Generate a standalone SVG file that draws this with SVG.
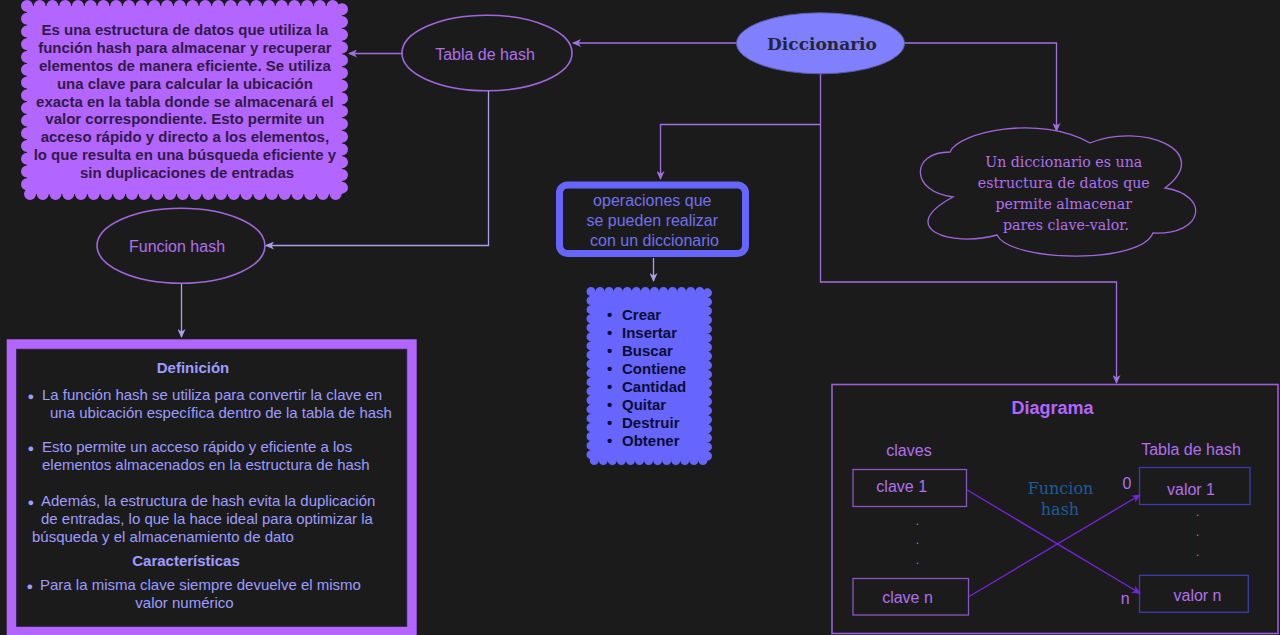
<svg xmlns="http://www.w3.org/2000/svg" width="1280" height="635" viewBox="0 0 1280 635">
<defs>
<style>
.sans{font-family:"Liberation Sans",Arial,sans-serif}
.serif{font-family:"DejaVu Serif",Georgia,serif}
.ln{fill:none;stroke:#a070e0;stroke-width:1.3}
.lav{fill:none;stroke:#a8a0e8;stroke-width:1.3}
.ell{fill:#1c1b1c;stroke:#a066dd;stroke-width:1.6}
.ptxt{fill:#b070ee;font-size:16px}
.def{fill:#9d9dff;font-size:15px}
.scal1{fill:#b266ff;stroke:#b266ff;stroke-width:12;stroke-linecap:round}
.dtxt{fill:#321a48;font-size:15px;font-weight:bold}
.ltxt{fill:#0d0d33;font-size:15px;font-weight:bold}
.kbox{fill:none;stroke:#8a55c5;stroke-width:1.3}
.vbox{fill:none;stroke:#3c3cb0;stroke-width:1.3}
.xl{fill:none;stroke:#7b22e0;stroke-width:1.3}
.dot{fill:#9a8ab0;font-size:12px}
</style>
<marker id="ah" markerUnits="userSpaceOnUse" markerWidth="9" markerHeight="8" refX="8" refY="4" orient="auto">
<path d="M0,0 L9,4 L0,8 L2.5,4 z" fill="#a070e0"/>
</marker>
<marker id="ahl" markerUnits="userSpaceOnUse" markerWidth="9" markerHeight="8" refX="8" refY="4" orient="auto">
<path d="M0,0 L9,4 L0,8 L2.5,4 z" fill="#a8a0e8"/>
</marker>
<marker id="ahx" markerUnits="userSpaceOnUse" markerWidth="9" markerHeight="8" refX="8" refY="4" orient="auto">
<path d="M0,0 L9,4 L0,8 L2.5,4 z" fill="#7b22e0"/>
</marker>
</defs>
<rect x="0" y="0" width="1280" height="635" fill="#1c1b1c"/>

<g id="connectors">
<path class="ln" d="M737,43 L573,43" marker-end="url(#ah)"/>
<path class="ln" d="M904,43 L1056.5,43 L1056.5,131" marker-end="url(#ah)"/>
<path class="ln" d="M820.5,74 L820.5,124.5 L660.5,124.5 L660.5,179" marker-end="url(#ah)"/>
<path class="ln" d="M820.5,124.5 L820.5,282 L1116.5,282 L1116.5,383" marker-end="url(#ah)"/>
<path class="ln" d="M402,53.5 L349,53.5" marker-end="url(#ah)"/>
<path class="lav" d="M488.5,91 L488.5,245.5 L266,245.5" marker-end="url(#ahl)"/>
<path class="lav" d="M181.5,283 L181.5,337" marker-end="url(#ahl)"/>
<path class="lav" d="M653.5,258 L653.5,281" marker-end="url(#ahl)"/>
</g>

<g id="node-desc-tabla">
<rect class="scal1" x="27" y="6" width="315" height="188" stroke-dasharray="0 12.734"/>
<text class="sans dtxt" text-anchor="middle">
<tspan x="187" y="35">Es una estructura de datos que utiliza la</tspan>
<tspan x="187" y="53">función hash para almacenar y recuperar</tspan>
<tspan x="187" y="71">elementos de manera eficiente. Se utiliza</tspan>
<tspan x="187" y="88.5">una clave para calcular la ubicación</tspan>
<tspan x="187" y="106.5">exacta en la tabla donde se almacenará el</tspan>
<tspan x="187" y="124">valor correspondiente. Esto permite un</tspan>
<tspan x="187" y="142">acceso rápido y directo a los elementos,</tspan>
<tspan x="187" y="160">lo que resulta en una búsqueda eficiente y</tspan>
<tspan x="187" y="177.5">sin duplicaciones de entradas</tspan>
</text>
</g>

<g id="node-tabla">
<ellipse class="ell" cx="487" cy="53" rx="85" ry="37.8"/>
<text class="sans ptxt" x="485" y="60" text-anchor="middle">Tabla de hash</text>
</g>

<g id="node-diccionario">
<ellipse cx="820.5" cy="43.3" rx="84" ry="30.5" fill="#8080ff" stroke="#5c5ca8" stroke-width="1"/>
<text class="serif" x="822" y="50" text-anchor="middle" font-size="17" font-weight="bold" fill="#24243a">Diccionario</text>
</g>

<g id="node-cloud">
<path d="M950,152 C958,132 1040,114 1090,143 C1140,122 1215,150 1165,188 C1210,195 1205,235 1153,233 C1140,265 1010,262 997,235 C950,248 895,228 953,197 C910,192 910,152 950,152 Z" fill="#1c1b1c" stroke="#a066dd" stroke-width="1.3"/>
<text class="serif" fill="#b070ee" font-size="14.2" text-anchor="middle">
<tspan x="1066" y="166.5">Un diccionario es una</tspan>
<tspan x="1066" y="187.5">estructura de datos que</tspan>
<tspan x="1066" y="208.5">permite almacenar</tspan>
<tspan x="1066" y="229.5">pares clave-valor.</tspan>
</text>
</g>

<g id="node-funcion">
<ellipse class="ell" cx="181" cy="245.7" rx="84" ry="37.5"/>
<text class="sans ptxt" x="177" y="252" text-anchor="middle">Funcion hash</text>
</g>

<g id="node-operaciones">
<rect x="559.5" y="185" width="186" height="68.5" rx="8" fill="#1c1b1c" stroke="#6666ff" stroke-width="7"/>
<text class="sans" fill="#7070ee" font-size="16" text-anchor="middle">
<tspan x="654.5" y="206">operaciones que</tspan>
<tspan x="654.5" y="226">se pueden realizar</tspan>
<tspan x="654.5" y="246">con un diccionario</tspan>
</text>
</g>

<g id="node-lista">
<rect x="591" y="291.5" width="116.5" height="169" fill="#6666ff" stroke="#6666ff" stroke-width="9" stroke-linecap="round" stroke-dasharray="0 9.063"/>
<g class="sans ltxt">
<text x="607" y="319.5">•</text><text x="622" y="319.5">Crear</text>
<text x="607" y="337.5">•</text><text x="622" y="337.5">Insertar</text>
<text x="607" y="355.5">•</text><text x="622" y="355.5">Buscar</text>
<text x="607" y="373.5">•</text><text x="622" y="373.5">Contiene</text>
<text x="607" y="391.5">•</text><text x="622" y="391.5">Cantidad</text>
<text x="607" y="409.5">•</text><text x="622" y="409.5">Quitar</text>
<text x="607" y="427.5">•</text><text x="622" y="427.5">Destruir</text>
<text x="607" y="445.5">•</text><text x="622" y="445.5">Obtener</text>
</g>
</g>

<g id="node-definicion">
<rect x="11.7" y="344.3" width="400" height="287" fill="#1c1b1c" stroke="#b266ff" stroke-width="10"/>
<rect x="16.7" y="349.3" width="390" height="277" fill="none" stroke="#2a2240" stroke-width="1"/>
<g class="sans def">
<text x="193" y="373.3" text-anchor="middle" font-weight="bold">Definición</text>
<text y="400"><tspan x="27.5" font-size="11">●</tspan><tspan x="42">La función hash se utiliza para convertir la clave en</tspan></text>
<text x="50" y="418">una ubicación específica dentro de la tabla de hash</text>
<text y="452"><tspan x="27.5" font-size="11">●</tspan><tspan x="42">Esto permite un acceso rápido y eficiente a los</tspan></text>
<text x="42" y="470">elementos almacenados en la estructura de hash</text>
<text y="505.7"><tspan x="27.5" font-size="11">●</tspan><tspan x="41">Además, la estructura de hash evita la duplicación</tspan></text>
<text x="41" y="524">de entradas, lo que la hace ideal para optimizar la</text>
<text x="32" y="541.7">búsqueda y el almacenamiento de dato</text>
<text x="186" y="566" text-anchor="middle" font-weight="bold">Características</text>
<text y="590"><tspan x="26.5" font-size="11">●</tspan><tspan x="40">Para la misma clave siempre devuelve el mismo</tspan></text>
<text x="184.5" y="607.5" text-anchor="middle">valor numérico</text>
</g>
</g>

<g id="node-diagrama">
<rect x="832" y="384.5" width="446" height="249" fill="none" stroke="#9a5fd0" stroke-width="1.6"/>
<text class="sans" x="1052.5" y="414.3" text-anchor="middle" font-size="18" font-weight="bold" fill="#b266ff">Diagrama</text>
<text class="sans ptxt" x="909" y="456" text-anchor="middle">claves</text>
<text class="sans ptxt" x="1191" y="454.7" text-anchor="middle">Tabla de hash</text>
<rect class="kbox" x="853" y="469.5" width="113.5" height="37"/>
<text class="sans ptxt" x="901.7" y="492.3" text-anchor="middle">clave 1</text>
<rect class="kbox" x="853" y="578.5" width="115.5" height="36.5"/>
<text class="sans ptxt" x="907.5" y="603.3" text-anchor="middle">clave n</text>
<rect class="vbox" x="1139.5" y="467.5" width="110.5" height="37"/>
<text class="sans ptxt" x="1191" y="495" text-anchor="middle">valor 1</text>
<rect class="vbox" x="1139.5" y="575.3" width="108.8" height="37"/>
<text class="sans ptxt" x="1197.5" y="601" text-anchor="middle">valor n</text>
<text class="sans ptxt" x="1127" y="489" text-anchor="middle">0</text>
<text class="sans ptxt" x="1125.3" y="604" text-anchor="middle">n</text>
<g class="sans dot" text-anchor="middle">
<text x="917.3" y="525">.</text><text x="917.3" y="544">.</text><text x="917.3" y="564">.</text>
<text x="1197.7" y="516">.</text><text x="1197.7" y="536">.</text><text x="1197.7" y="556">.</text>
</g>
<text class="serif" fill="#1d5c9c" font-size="16" text-anchor="middle"><tspan x="1060.5" y="494">Funcion</tspan><tspan x="1060" y="515">hash</tspan></text>
<path class="xl" d="M967.3,490 L1140,593.3" marker-end="url(#ahx)"/>
<path class="xl" d="M968.7,596.7 L1140,495" marker-end="url(#ahx)"/>
</g>
</svg>
